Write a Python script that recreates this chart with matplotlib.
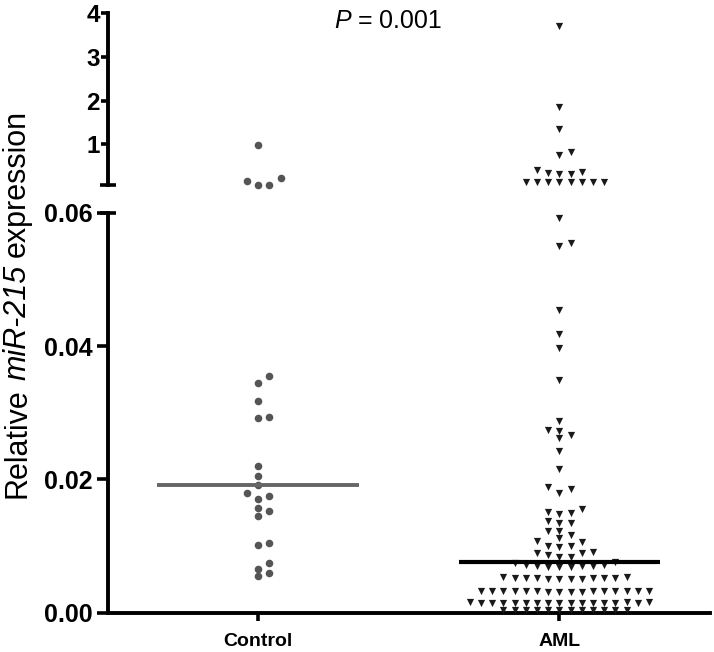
import numpy as np
import matplotlib
matplotlib.use('Agg')
import matplotlib.pyplot as plt
from matplotlib.font_manager import FontProperties

plt.rcParams['font.family'] = ['Liberation Sans', 'DejaVu Sans']

# ---------------- data ----------------
categories = ['Control', 'AML']
control_upper = [0.98, 0.15, 0.07, 0.07, 0.22]
control_lower = [0.0355, 0.0345, 0.0317, 0.0294, 0.0292, 0.0220, 0.0205, 0.0192,
                 0.0179, 0.0175, 0.0171, 0.0157, 0.0152, 0.0145, 0.0105, 0.0101,
                 0.0074, 0.0066, 0.0060, 0.0055]
aml_upper = [3.72, 1.86, 1.35, 0.83, 0.76, 0.41, 0.37, 0.35, 0.32, 0.31,
             0.13, 0.13, 0.13, 0.13, 0.13, 0.13, 0.13, 0.13]
aml_lower = [0.0592, 0.0555, 0.0550, 0.0454, 0.0419, 0.0397, 0.0349, 0.0287,
             0.0274, 0.0273, 0.0266, 0.0262, 0.0242, 0.0215, 0.0188, 0.0186, 0.0180,
             0.0156, 0.0151, 0.0150, 0.0148,
             0.0137, 0.0135, 0.0134,
             0.0123, 0.0123, 0.0117,
             0.0112, 0.0108, 0.0106, 0.0100, 0.0100, 0.0098,
             0.0091, 0.0089, 0.0089, 0.0087, 0.0083, 0.0083,
             0.0076, 0.0075,
             0.0071, 0.0071, 0.0070, 0.0070, 0.0070, 0.0069, 0.0069, 0.0068,
             0.0053, 0.0053, 0.0052, 0.0052, 0.0052, 0.0052, 0.0052, 0.0052,
             0.0051, 0.0051, 0.0051, 0.0051,
             0.0033, 0.0033, 0.0033, 0.0032, 0.0032, 0.0032, 0.0032, 0.0032,
             0.0032, 0.0032, 0.0032, 0.0032, 0.0031, 0.0031, 0.0031, 0.0031,
             0.0016, 0.0016, 0.0016, 0.0015, 0.0015, 0.0015, 0.0015, 0.0015,
             0.0015, 0.0015, 0.0015, 0.0015, 0.0015, 0.0015, 0.0014, 0.0014,
             0.0014,
             0.0004, 0.0004, 0.0004, 0.0004, 0.0004, 0.0004, 0.0004, 0.0004,
             0.0004, 0.0004, 0.0004, 0.0004]
medians = [0.0192, 0.0076]
lower_ticks = [0.00, 0.02, 0.04, 0.06]
upper_ticks = [1, 2, 3, 4]
lower_lim = (0.0, 0.06)
upper_lim = (0.06, 4.0)
p_value = '0.001'

# ---------------- layout ----------------
W, H = 714, 652
fig = plt.figure(figsize=(W / 100, H / 100), dpi=100)
left_px, right_px = 107.7, 710.0
ax_low = fig.add_axes([left_px / W, (H - 612.5) / H, (right_px - left_px) / W, (612.5 - 213.0) / H])
ax_up = fig.add_axes([left_px / W, (H - 185.3) / H, (right_px - left_px) / W, (185.3 - 13.3) / H])

for ax in (ax_low, ax_up):
    ax.set_xlim(-0.5, 1.5)
    ax.patch.set_alpha(0)
    for s in ('top', 'right'):
        ax.spines[s].set_visible(False)
    ax.spines['left'].set_linewidth(2.8)
ax_low.set_ylim(*lower_lim)
ax_up.set_ylim(*upper_lim)
ax_low.spines['bottom'].set_linewidth(2.8)
ax_up.spines['bottom'].set_visible(False)
ax_up.set_xticks([])

ax_low.set_yticks(lower_ticks)
ax_low.set_yticklabels(['%.2f' % t for t in lower_ticks], fontsize=18, fontweight='bold')
ax_low.tick_params(axis='y', length=8, width=2.6, pad=3.0)
ax_low.set_xticks(range(len(categories)))
ax_low.set_xticklabels(categories, fontsize=14, fontweight='bold')
ax_low.tick_params(axis='x', length=6, width=2.6, pad=8.5)

ax_up.set_yticks(upper_ticks)
ax_up.set_yticklabels([str(t) for t in upper_ticks], fontsize=17.5, fontweight='bold')
ax_up.tick_params(axis='y', length=5, width=2.6, pad=0.5)

# axis-break caps
d = 8.0 / (right_px - left_px)
ax_up.plot([-d, d], [0, 0], transform=ax_up.transAxes, color='black', lw=2.6,
           clip_on=False, solid_capstyle='butt')
ax_low.plot([-d, d], [1, 1], transform=ax_low.transAxes, color='black', lw=2.6,
            clip_on=False, solid_capstyle='butt')


def swarm_x(ax, x0, values, step_px=11.2, min_dy=7.0):
    vals = np.asarray(values, dtype=float)
    pts = np.column_stack([np.full(len(vals), float(x0)), vals])
    ypix = ax.transData.transform(pts)[:, 1]
    unit_px = ax.transData.transform([(1, 0)])[0][0] - ax.transData.transform([(0, 0)])[0][0]
    cands = [0]
    for k in range(1, 30):
        cands += [k, -k]
    placed = []
    ks = np.zeros(len(vals))
    for i in np.argsort(vals, kind='stable'):
        for k in cands:
            if all(not (kk == k and abs(yy - ypix[i]) < min_dy) for yy, kk in placed):
                break
        placed.append((ypix[i], k))
        ks[i] = k
    return x0 + ks * step_px / unit_px


ctrl_color = '#555555'
aml_color = '#1a1a1a'
for ax, vals in ((ax_low, control_lower), (ax_up, control_upper)):
    ax.scatter(swarm_x(ax, 0, vals), vals, s=30, marker='o', color=ctrl_color,
               linewidths=0, clip_on=False, zorder=3)
for ax, vals in ((ax_low, aml_lower), (ax_up, aml_upper)):
    ax.scatter(swarm_x(ax, 1, vals), vals, s=27, marker='v', color=aml_color,
               linewidths=0, clip_on=False, zorder=3)

# medians
half = 0.335
ax_low.plot([0 - half, 0 + half], [medians[0], medians[0]], color='#666666', lw=2.8,
            solid_capstyle='butt', zorder=4)
ax_low.plot([1 - half, 1 + half], [medians[1], medians[1]], color='black', lw=3.0,
            solid_capstyle='butt', zorder=4)

# ---------------- texts ----------------
renderer = fig.canvas.get_renderer()


def text_width(s, fp):
    w, h, dsc = renderer.get_text_width_height_descent(s, fp, ismath=False)
    return w

# y label: "Relative miR-215 expression" with italic gene name
ylab_size = 22
pieces = [('Relative', 'normal'), ('miR-215', 'italic'), ('expression', 'normal')]
fps = [FontProperties(family=['Liberation Sans', 'DejaVu Sans'], size=ylab_size, style=st)
       for _, st in pieces]
space = 0.25 * ylab_size * 100 / 72
widths = [text_width(t, fp) for (t, _), fp in zip(pieces, fps)]
total = sum(widths) + space * (len(pieces) - 1)
center_y = 304.0
ypos = H - (center_y + total / 2)
xbase = 25.0
for (t, st), fp, w in zip(pieces, fps, widths):
    fig.text(xbase / W, ypos / H, t, rotation=90, rotation_mode='anchor',
             ha='left', va='baseline', fontproperties=fp)
    ypos += w + space

# P value
p_size = 18
fp_it = FontProperties(family=['Liberation Sans', 'DejaVu Sans'], size=p_size, style='italic')
fp_rm = FontProperties(family=['Liberation Sans', 'DejaVu Sans'], size=p_size)
p_pieces = [('P', fp_it), ('=', fp_rm), (p_value, fp_rm)]
sp = 0.26 * p_size * 100 / 72
pw = [text_width(t, fp) for t, fp in p_pieces]
ptotal = sum(pw) + sp * 2
px = 388.0 - ptotal / 2
for (t, fp), w in zip(p_pieces, pw):
    fig.text(px / W, (H - 28.3) / H, t, ha='left', va='baseline', fontproperties=fp)
    px += w + sp

fig.savefig('out.png', dpi=100)
